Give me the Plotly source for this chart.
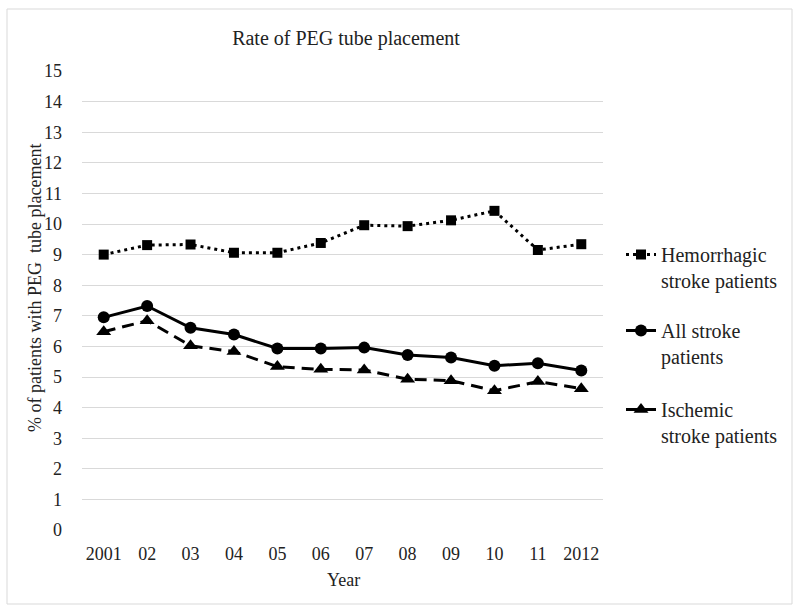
import plotly.graph_objects as go

years = ["2001", "02", "03", "04", "05", "06", "07", "08", "09", "10", "11", "2012"]
hemorrhagic = [9.00, 9.31, 9.33, 9.06, 9.06, 9.38, 9.96, 9.93, 10.12, 10.43, 9.15, 9.34]
all_stroke = [6.95, 7.32, 6.61, 6.39, 5.93, 5.93, 5.96, 5.72, 5.64, 5.37, 5.45, 5.21]
ischemic = [6.48, 6.84, 6.02, 5.83, 5.34, 5.25, 5.23, 4.93, 4.88, 4.55, 4.85, 4.62]
y_ticks = list(range(0, 16))

FONT = "Liberation Serif"
W, H = 800, 615
L, R, T, B = 82, 197, 71, 85
pw, ph = W - L - R, H - T - B

fig = go.Figure()
fig.add_trace(go.Scatter(
    x=years, y=hemorrhagic, mode="lines+markers",
    name="Hemorrhagic<br>stroke patients", legend="legend",
    line=dict(color="black", width=3, dash="3px,4px"),
    marker=dict(symbol="square", size=10, color="black"),
))
fig.add_trace(go.Scatter(
    x=years, y=all_stroke, mode="lines+markers",
    name="All stroke<br>patients", legend="legend2",
    line=dict(color="black", width=3),
    marker=dict(symbol="circle", size=12, color="black"),
))
fig.add_trace(go.Scatter(
    x=years, y=ischemic, mode="lines+markers",
    name="Ischemic<br>stroke patients", legend="legend3",
    line=dict(color="black", width=3, dash="12px,7px"),
    marker=dict(symbol="triangle-up", size=13, color="black"),
))

def leg(ytop):
    return dict(
        xref="container", yref="container",
        x=621 / W, xanchor="left",
        y=1 - ytop / H, yanchor="top",
        font=dict(family=FONT, size=20, color="#222"),
        bgcolor="rgba(0,0,0,0)", borderwidth=0,
        valign="top",
    )

fig.update_layout(
    width=W, height=H,
    margin=dict(l=L, r=R, t=T, b=B),
    paper_bgcolor="white", plot_bgcolor="white",
    font=dict(family=FONT, size=18, color="#222"),
    title=dict(text="Rate of PEG tube placement",
               x=346 / W, xanchor="center", xref="container",
               y=1 - 38 / H, yanchor="middle", yref="container",
               font=dict(family=FONT, size=20, color="#222")),
    showlegend=True,
    legend=leg(235),
    legend2=leg(311),
    legend3=leg(390),
    xaxis=dict(type="category", range=[-0.5, 11.5], showgrid=False,
               showline=False, zeroline=False, ticks="",
               tickfont=dict(family=FONT, size=18, color="#222"),
               ticklabelstandoff=11),
    yaxis=dict(range=[0, 15], tickvals=y_ticks, showgrid=True,
               gridcolor="#d9d9d9", gridwidth=1, zeroline=False,
               showline=False, ticks="",
               tickfont=dict(family=FONT, size=18, color="#222"),
               ticklabelstandoff=19),
    annotations=[
        dict(text="% of patients with PEG  tube placement", textangle=-90,
             xref="paper", yref="paper",
             x=(35 - L) / pw, y=(H - B - 288) / ph,
             xanchor="center", yanchor="middle", showarrow=False,
             font=dict(family=FONT, size=18, color="#222")),
        dict(text="Year", xref="paper", yref="paper",
             x=(343 - L) / pw, y=(H - B - 580) / ph,
             xanchor="center", yanchor="middle", showarrow=False,
             font=dict(family=FONT, size=18, color="#222")),
    ],
    shapes=[dict(type="rect", xref="paper", yref="paper",
                 x0=(7 - L) / pw, x1=(792 - L) / pw,
                 y0=(H - B - 604) / ph, y1=(H - B - 9) / ph,
                 line=dict(color="#d9d9d9", width=1), layer="below")],
)

fig.write_html("out.html",
               config={"displayModeBar": False},
               post_script="document.body.style.margin='0';document.body.style.overflow='hidden';")
